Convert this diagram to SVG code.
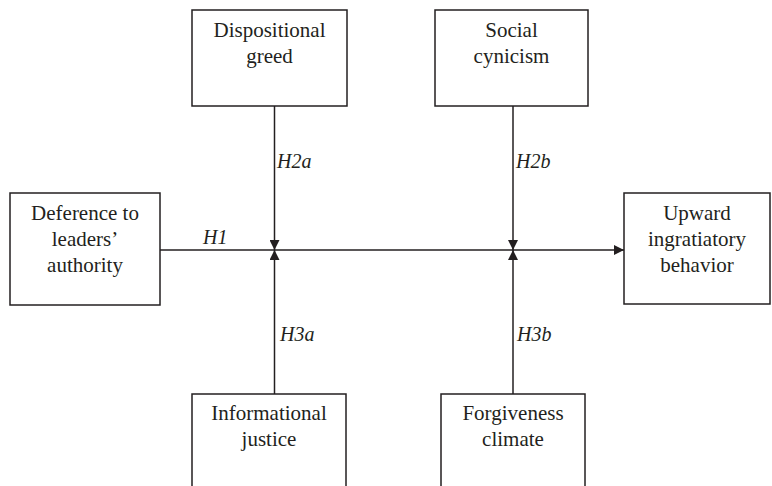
<svg xmlns="http://www.w3.org/2000/svg" width="772" height="486" viewBox="0 0 772 486">
<style>
.box{fill:#fff;stroke:#231f20;stroke-width:1.5}
.t{font-family:"Liberation Serif","Times New Roman",serif;font-size:21px;fill:#231f20;text-anchor:middle}
.h{font-family:"Liberation Serif","Times New Roman",serif;font-size:20px;font-style:italic;fill:#231f20}
.ln{fill:none;stroke:#231f20;stroke-width:1.5}
</style>
<defs>
<marker id="arr" viewBox="0 0 10 10" refX="10" refY="5" markerWidth="12" markerHeight="10" markerUnits="userSpaceOnUse" orient="auto">
<path d="M0,0 L10,5 L0,10 z" fill="#231f20"/>
</marker>
</defs>
<rect width="772" height="486" fill="#fff"/>
<g id="connectors">
<path class="ln" d="M160,250 L624,250" marker-end="url(#arr)"/>
<path class="ln" d="M274.5,106 L274.5,250" marker-end="url(#arr)"/>
<path class="ln" d="M513,106 L513,250" marker-end="url(#arr)"/>
<path class="ln" d="M274.5,394 L274.5,250" marker-end="url(#arr)"/>
<path class="ln" d="M513,394 L513,250" marker-end="url(#arr)"/>
<text class="h" x="203" y="244">H1</text>
<text class="h" x="277" y="168">H2a</text>
<text class="h" x="516" y="168">H2b</text>
<text class="h" x="280" y="341">H3a</text>
<text class="h" x="517" y="341">H3b</text>
</g>
<g id="deference">
<rect class="box" x="10" y="193" width="150" height="112"/>
<text class="t" x="85" y="220">Deference to</text>
<text class="t" x="85" y="246">leaders’</text>
<text class="t" x="85" y="272">authority</text>
</g>
<g id="greed">
<rect class="box" x="192" y="10" width="155" height="96"/>
<text class="t" x="269.5" y="37">Dispositional</text>
<text class="t" x="269.5" y="63">greed</text>
</g>
<g id="cynicism">
<rect class="box" x="435" y="10" width="153" height="96"/>
<text class="t" x="511.5" y="37">Social</text>
<text class="t" x="511.5" y="63">cynicism</text>
</g>
<g id="ingratiation">
<rect class="box" x="624" y="193" width="146" height="111"/>
<text class="t" x="697" y="220">Upward</text>
<text class="t" x="697" y="246">ingratiatory</text>
<text class="t" x="697" y="272">behavior</text>
</g>
<g id="justice">
<rect class="box" x="192" y="394" width="154" height="100"/>
<text class="t" x="269" y="420">Informational</text>
<text class="t" x="269" y="446">justice</text>
</g>
<g id="forgiveness">
<rect class="box" x="441" y="394" width="144" height="100"/>
<text class="t" x="513" y="420">Forgiveness</text>
<text class="t" x="513" y="446">climate</text>
</g>
</svg>
